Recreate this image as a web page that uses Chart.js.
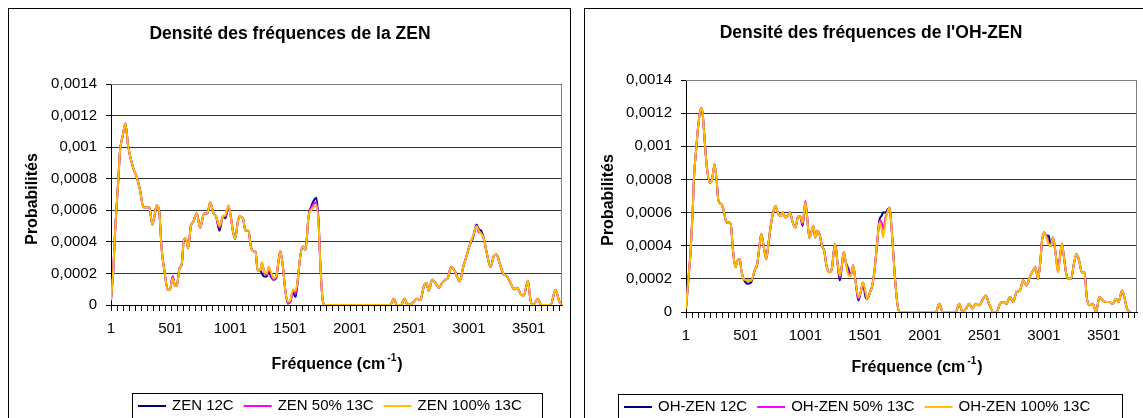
<!DOCTYPE html>
<html lang="fr">
<head>
<meta charset="UTF-8">
<script src="https://cdn.jsdelivr.net/npm/chart.js"></script>
<title>Densité des fréquences</title>
<style>
    body { margin: 0; background: #fff; width: 1143px; height: 418px; overflow: hidden; position: relative; }
    .cadre { position: absolute; top: 8px; width: 561px; height: 420px; border: 1px solid #000; background: #fff; }
    #cadreZen { left: 8px; }
    #cadreOh { left: 584px; }
    canvas { position: absolute; left: 0; top: 0; }
</style>
</head>
<body>
<div class="cadre" id="cadreZen"><canvas id="grafZen" width="561" height="410"></canvas></div>
<div class="cadre" id="cadreOh"><canvas id="grafOh" width="561" height="410"></canvas></div>

<script>
// ---- ZEN ----
var freqZen = [1, 20, 35, 62, 77, 99, 121, 146, 188, 217,
    244, 272, 301, 322, 347, 362, 384, 404, 426, 448,
    477, 496, 519, 538, 552, 574, 594, 613, 630, 647,
    670, 692, 720, 748, 781, 809, 832, 860, 882, 910,
    938, 960, 985, 1005, 1022, 1041, 1064, 1077, 1106, 1128,
    1153, 1173, 1195, 1212, 1229, 1251, 1265, 1285, 1307, 1321,
    1341, 1363, 1385, 1405, 1419, 1442, 1461, 1484, 1503, 1526,
    1547, 1564, 1587, 1609, 1631, 1656, 1677, 1699, 1722, 1741,
    1755, 1772, 1788, 2342, 2370, 2398, 2432, 2459, 2487, 2524,
    2566, 2594, 2621, 2644, 2663, 2692, 2719, 2747, 2776, 2803,
    2823, 2851, 2879, 2901, 2923, 2952, 2980, 3007, 3036, 3064,
    3083, 3103, 3125, 3147, 3181, 3209, 3231, 3259, 3287, 3321,
    3349, 3376, 3405, 3432, 3460, 3494, 3516, 3539, 3578, 3606,
    3684, 3726, 3754, 3777];

var zen12 = [0.00003, 0.00022, 0.00046, 0.00079, 0.00098, 0.00107, 0.00115, 0.00100, 0.000865, 0.00081,
    0.00073, 0.00062, 0.00062, 0.00062, 0.00051, 0.00055, 0.00063, 0.00060, 0.00035, 0.00022,
    0.000095, 0.00010, 0.00018, 0.00012, 0.00012, 0.00023, 0.00026, 0.00042, 0.00042, 0.00036,
    0.00050, 0.00053, 0.00058, 0.00049, 0.00058, 0.00058, 0.00065, 0.00058, 0.00056, 0.00047,
    0.00056, 0.00055, 0.00062, 0.00056, 0.00047, 0.00042, 0.00053, 0.00056, 0.00055, 0.00047,
    0.00047, 0.00037, 0.00034, 0.00034, 0.00022, 0.00022, 0.00020, 0.00018, 0.00018, 0.00022,
    0.00018, 0.00016, 0.00017, 0.00028, 0.00034, 0.00024, 0.000095, 0.00001, 0.00002, 0.00008,
    0.00005, 0.00014, 0.00031, 0.00037, 0.00035, 0.00056, 0.00062, 0.00066, 0.00068, 0.00052,
    0.00026, 0.00005, 0, 0, 0.00004, 0, 0, 0.00004, 0, 0.00001,
    0.00004, 0.00003, 0.000115, 0.00014, 0.00009, 0.00016, 0.00014, 0.00011, 0.00014, 0.00016,
    0.00017, 0.00024, 0.00022, 0.00018, 0.00015, 0.00024, 0.00031, 0.00038, 0.00043, 0.00051,
    0.00048, 0.00047, 0.00042, 0.00034, 0.00024, 0.00031, 0.00032, 0.00026, 0.00020, 0.00018,
    0.00014, 0.00010, 0.00011, 0.00007, 0.00006, 0.000154, 0.00003, 0, 0.00004, 0,
    0, 0.000095, 0.00003, 0];

var zen50 = [0.00003, 0.00022, 0.00046, 0.00079, 0.00098, 0.00107, 0.00115, 0.00100, 0.000865, 0.00081,
    0.00073, 0.00062, 0.00062, 0.00062, 0.00051, 0.00055, 0.00063, 0.00060, 0.00035, 0.00022,
    0.000095, 0.00010, 0.00018, 0.00012, 0.00012, 0.00023, 0.00026, 0.00042, 0.00042, 0.00036,
    0.00050, 0.00053, 0.00058, 0.00049, 0.00058, 0.00058, 0.00065, 0.00058, 0.00056, 0.00049,
    0.00056, 0.00056, 0.00063, 0.00056, 0.00047, 0.00042, 0.00053, 0.00056, 0.00055, 0.00047,
    0.00047, 0.00037, 0.00034, 0.00034, 0.00022, 0.00022, 0.00027, 0.00021, 0.00019, 0.00024,
    0.00020, 0.00016, 0.00018, 0.00028, 0.00034, 0.00024, 0.000095, 0.00001, 0.00002, 0.00009,
    0.00007, 0.00015, 0.00031, 0.00037, 0.00035, 0.00056, 0.00061, 0.00064, 0.00065, 0.00051,
    0.00026, 0.00005, 0, 0, 0.00004, 0, 0, 0.00004, 0, 0.00001,
    0.00004, 0.00003, 0.000115, 0.00014, 0.00009, 0.00016, 0.00014, 0.00011, 0.00014, 0.00016,
    0.00017, 0.00024, 0.00022, 0.00018, 0.00015, 0.00024, 0.00031, 0.00038, 0.00044, 0.00050,
    0.00046, 0.00046, 0.00042, 0.00034, 0.00024, 0.00031, 0.00032, 0.00026, 0.00020, 0.00018,
    0.00014, 0.00010, 0.00011, 0.00007, 0.00006, 0.000154, 0.00003, 0, 0.00004, 0,
    0, 0.000095, 0.00003, 0];

var zen100 = [0.00003, 0.00022, 0.00046, 0.00079, 0.00098, 0.00107, 0.00115, 0.00100, 0.000865, 0.00081,
    0.00073, 0.00062, 0.00062, 0.00062, 0.00051, 0.00055, 0.00063, 0.00060, 0.00035, 0.00022,
    0.000095, 0.00010, 0.00017, 0.00012, 0.00012, 0.00023, 0.00026, 0.00042, 0.00042, 0.00036,
    0.00050, 0.00053, 0.00058, 0.00049, 0.00058, 0.00058, 0.00065, 0.00058, 0.00056, 0.00050,
    0.00056, 0.00057, 0.00063, 0.00056, 0.00047, 0.00042, 0.00053, 0.00056, 0.00055, 0.00047,
    0.00047, 0.00037, 0.00034, 0.00034, 0.00022, 0.00022, 0.00027, 0.00021, 0.00020, 0.00024,
    0.00021, 0.00017, 0.00018, 0.00028, 0.00034, 0.00024, 0.000095, 0.00002, 0.00003, 0.00010,
    0.00009, 0.00015, 0.00031, 0.00037, 0.00035, 0.00056, 0.00060, 0.00062, 0.00063, 0.00050,
    0.00026, 0.00005, 0, 0, 0.00004, 0, 0, 0.00004, 0, 0.00001,
    0.00004, 0.00003, 0.000115, 0.00014, 0.00009, 0.00016, 0.00014, 0.00011, 0.00014, 0.00016,
    0.00017, 0.00024, 0.00022, 0.00018, 0.00015, 0.00024, 0.00031, 0.00038, 0.00044, 0.00050,
    0.00047, 0.00045, 0.00042, 0.00034, 0.00024, 0.00031, 0.00032, 0.00026, 0.00020, 0.00018,
    0.00014, 0.00010, 0.00011, 0.00007, 0.00006, 0.000154, 0.00003, 0, 0.00004, 0,
    0, 0.000095, 0.00003, 0];

// ---- OH-ZEN ----
var freqOh = [1, 20, 40, 57, 70, 84, 103, 126, 140, 159,
    178, 201, 220, 240, 257, 273, 298, 318, 340, 362,
    376, 395, 415, 432, 451, 465, 484, 520, 548, 576,
    598, 612, 632, 651, 673, 690, 709, 728, 751, 770,
    793, 812, 834, 853, 873, 895, 918, 937, 957, 978,
    1001, 1015, 1034, 1051, 1068, 1084, 1104, 1123, 1140, 1159,
    1178, 1201, 1223, 1240, 1251, 1270, 1290, 1307, 1323, 1340,
    1362, 1382, 1401, 1423, 1445, 1465, 1484, 1506, 1520, 1543,
    1562, 1582, 1603, 1623, 1640, 1653, 1673, 1693, 1707, 1723,
    1743, 1757, 1774, 1790, 2095, 2123, 2151, 2262, 2290, 2318,
    2348, 2373, 2401, 2428, 2457, 2484, 2512, 2540, 2576, 2604,
    2632, 2659, 2687, 2715, 2743, 2770, 2799, 2826, 2853, 2882,
    2909, 2928, 2951, 2973, 2984, 3001, 3020, 3040, 3057, 3076,
    3095, 3118, 3134, 3151, 3168, 3187, 3207, 3228, 3251, 3273,
    3298, 3318, 3340, 3359, 3382, 3409, 3437, 3465, 3493, 3520,
    3548, 3576, 3604, 3626, 3654, 3674, 3696, 3721];

var oh12 = [0.00002, 0.00019, 0.00037, 0.00061, 0.00084, 0.00096, 0.00112, 0.00123, 0.00120, 0.00102,
    0.00086, 0.00078, 0.00080, 0.00089, 0.00080, 0.00067, 0.00065, 0.00061, 0.00054, 0.00054,
    0.00053, 0.00037, 0.00027, 0.00031, 0.00032, 0.00025, 0.00020, 0.00017, 0.00018, 0.00025,
    0.00029, 0.00037, 0.00047, 0.00040, 0.00032, 0.00040, 0.00051, 0.00059, 0.00064, 0.00060,
    0.00058, 0.00060, 0.00057, 0.00058, 0.00060, 0.00054, 0.00051, 0.00057, 0.00058, 0.00052,
    0.00066, 0.00058, 0.00045, 0.00048, 0.00052, 0.00045, 0.00049, 0.00046, 0.00040, 0.00037,
    0.00028, 0.00024, 0.00026, 0.00037, 0.00041, 0.00030, 0.00019, 0.00028, 0.00036, 0.00030,
    0.00026, 0.00022, 0.00028, 0.00018, 0.00007, 0.00012, 0.00017, 0.00009, 0.00008, 0.00012,
    0.00016, 0.00026, 0.00042, 0.00056, 0.00058, 0.00060, 0.00060, 0.00062, 0.00063, 0.00051,
    0.00030, 0.00016, 0.00004, 0, 0, 0.00005, 0, 0, 0.00005, 0,
    0.00002, 0.00005, 0.00002, 0.00005, 0.00004, 0.00007, 0.00010, 0.00005, 0, 0,
    0.00005, 0.00006, 0.00005, 0.00009, 0.00006, 0.00012, 0.00013, 0.00019, 0.00016, 0.00021,
    0.00025, 0.00027, 0.00020, 0.00033, 0.00043, 0.00048, 0.00046, 0.00046, 0.00040, 0.00045,
    0.00037, 0.00026, 0.00033, 0.00041, 0.00033, 0.00023, 0.00020, 0.00020, 0.00029, 0.00035,
    0.00030, 0.00024, 0.00024, 0.00009, 0.00004, 0.00005, 0, 0.00009, 0.00007, 0.00006,
    0.00006, 0.00005, 0.00008, 0.00006, 0.00013, 0.00009, 0.00002, 0];

var oh50 = [0.00002, 0.00019, 0.00037, 0.00061, 0.00084, 0.00096, 0.00112, 0.00123, 0.00120, 0.00102,
    0.00086, 0.00078, 0.00080, 0.00089, 0.00080, 0.00067, 0.00065, 0.00061, 0.00054, 0.00054,
    0.00053, 0.00037, 0.00027, 0.00031, 0.00032, 0.00025, 0.00020, 0.00019, 0.00019, 0.00025,
    0.00029, 0.00037, 0.00047, 0.00040, 0.00032, 0.00040, 0.00051, 0.00059, 0.00064, 0.00060,
    0.00058, 0.00060, 0.00057, 0.00058, 0.00060, 0.00054, 0.00051, 0.00057, 0.00058, 0.00053,
    0.00067, 0.00058, 0.00045, 0.00048, 0.00052, 0.00045, 0.00049, 0.00046, 0.00040, 0.00037,
    0.00028, 0.00024, 0.00026, 0.00037, 0.00041, 0.00030, 0.00021, 0.00028, 0.00036, 0.00030,
    0.00024, 0.00022, 0.00028, 0.00018, 0.00008, 0.00012, 0.00018, 0.00011, 0.00008, 0.00012,
    0.00016, 0.00026, 0.00042, 0.00055, 0.00054, 0.00050, 0.00057, 0.00061, 0.00063, 0.00051,
    0.00030, 0.00016, 0.00004, 0, 0, 0.00005, 0, 0, 0.00005, 0,
    0.00002, 0.00005, 0.00002, 0.00005, 0.00004, 0.00007, 0.00010, 0.00005, 0, 0,
    0.00005, 0.00006, 0.00005, 0.00009, 0.00006, 0.00012, 0.00013, 0.00019, 0.00016, 0.00021,
    0.00025, 0.00027, 0.00020, 0.00033, 0.00043, 0.00048, 0.00046, 0.00041, 0.00040, 0.00045,
    0.00037, 0.00024, 0.00033, 0.00041, 0.00033, 0.00023, 0.00020, 0.00020, 0.00029, 0.00035,
    0.00030, 0.00024, 0.00024, 0.00009, 0.00004, 0.00005, 0, 0.00009, 0.00007, 0.00006,
    0.00006, 0.00005, 0.00008, 0.00006, 0.00013, 0.00009, 0.00002, 0];

var oh100 = [0.00002, 0.00019, 0.00037, 0.00061, 0.00084, 0.00096, 0.00112, 0.00123, 0.00120, 0.00102,
    0.00086, 0.00078, 0.00080, 0.00089, 0.00080, 0.00067, 0.00065, 0.00061, 0.00054, 0.00054,
    0.00053, 0.00037, 0.00027, 0.00031, 0.00032, 0.00025, 0.00020, 0.00019, 0.00019, 0.00025,
    0.00029, 0.00037, 0.00047, 0.00040, 0.00032, 0.00040, 0.00051, 0.00059, 0.00064, 0.00060,
    0.00058, 0.00060, 0.00057, 0.00058, 0.00060, 0.00054, 0.00051, 0.00057, 0.00058, 0.00054,
    0.00066, 0.00058, 0.00045, 0.00048, 0.00052, 0.00045, 0.00049, 0.00046, 0.00040, 0.00037,
    0.00028, 0.00024, 0.00026, 0.00037, 0.00041, 0.00030, 0.00022, 0.00028, 0.00036, 0.00030,
    0.00022, 0.00022, 0.00028, 0.00018, 0.00009, 0.00012, 0.00018, 0.00012, 0.00008, 0.00012,
    0.00016, 0.00026, 0.00042, 0.00054, 0.00050, 0.00045, 0.00055, 0.00061, 0.00063, 0.00051,
    0.00030, 0.00016, 0.00004, 0, 0, 0.00005, 0, 0, 0.00005, 0,
    0.00002, 0.00005, 0.00002, 0.00005, 0.00004, 0.00007, 0.00010, 0.00005, 0, 0,
    0.00005, 0.00006, 0.00005, 0.00009, 0.00006, 0.00012, 0.00013, 0.00019, 0.00016, 0.00021,
    0.00025, 0.00027, 0.00020, 0.00033, 0.00043, 0.00048, 0.00045, 0.00041, 0.00040, 0.00045,
    0.00037, 0.00024, 0.00033, 0.00041, 0.00033, 0.00023, 0.00020, 0.00020, 0.00029, 0.00035,
    0.00030, 0.00024, 0.00024, 0.00009, 0.00004, 0.00005, 0, 0.00009, 0.00007, 0.00006,
    0.00006, 0.00005, 0.00008, 0.00006, 0.00013, 0.00009, 0.00002, 0];

var police = 'Arial, "Liberation Sans", sans-serif';
Chart.defaults.font.family = police;
Chart.defaults.font.size = 15;
Chart.defaults.color = '#000';

function points(freq, vals) {
    return freq.map(function (f, i) { return { x: f, y: vals[i] }; });
}

// titre, titres des axes, graduations x, legende encadree, bord gris
var decor = {
    id: 'decor',
    afterDraw: function (chart, args, o) {
        var ctx = chart.ctx;
        var a = chart.chartArea;
        var sx = chart.scales.x;
        ctx.save();
        ctx.strokeStyle = '#808080';
        ctx.lineWidth = 1;
        ctx.beginPath();
        ctx.moveTo(a.left, a.top + 0.5);
        ctx.lineTo(a.right - 0.5, a.top + 0.5);
        ctx.lineTo(a.right - 0.5, a.bottom);
        ctx.stroke();

        // petites graduations sous l'axe x
        ctx.strokeStyle = '#000';
        ctx.beginPath();
        sx.ticks.forEach(function (t) {
            var px = Math.round(sx.getPixelForValue(t.value)) + 0.5;
            ctx.moveTo(px, a.bottom);
            ctx.lineTo(px, a.bottom + 6);
        });
        ctx.stroke();

        ctx.fillStyle = '#000';
        ctx.textAlign = 'center';
        ctx.textBaseline = 'middle';
        ctx.font = 'bold 17.5px ' + police;
        ctx.fillText(o.titre, o.titreX, o.titreY);

        ctx.save();
        ctx.translate(o.axeYX, o.axeYY);
        ctx.rotate(-Math.PI / 2);
        ctx.font = 'bold 16px ' + police;
        ctx.fillText('Probabilités', 0, 0);
        ctx.restore();

        // Fréquence (cm-1) avec exposant
        ctx.textAlign = 'left';
        ctx.font = 'bold 16px ' + police;
        var t1 = 'Fréquence (cm', t3 = ')';
        var w1 = ctx.measureText(t1).width, w3 = ctx.measureText(t3).width;
        ctx.font = 'bold 10px ' + police;
        var w2 = ctx.measureText('-1').width + 3;
        var x0 = o.axeXX - (w1 + w2 + w3) / 2;
        ctx.font = 'bold 16px ' + police;
        ctx.fillText(t1, x0, o.axeXY);
        ctx.fillText(t3, x0 + w1 + w2, o.axeXY);
        ctx.font = 'bold 10px ' + police;
        ctx.fillText('-1', x0 + w1 + 2, o.axeXY - 7);

        // legende
        ctx.strokeStyle = '#000';
        ctx.lineWidth = 1;
        ctx.strokeRect(o.legX + 0.5, o.legY + 0.5, o.legW, 60);
        ctx.font = '15px ' + police;
        var x = o.legX + 6;
        var y = o.legY + 13;
        chart.data.datasets.forEach(function (ds) {
            ctx.strokeStyle = ds.borderColor;
            ctx.lineWidth = 2;
            ctx.beginPath();
            ctx.moveTo(x, y);
            ctx.lineTo(x + 28, y);
            ctx.stroke();
            ctx.fillText(ds.label, x + 34, y);
            x += 34 + ctx.measureText(ds.label).width + 10;
        });
        ctx.restore();
    }
};

function fmtY(v) {
    return String(parseFloat(Number(v).toFixed(4))).replace('.', ',');
}

function creerGraphique(id, freq, series, noms, deco, pad) {
    var couleurs = ['#000080', '#FF00FF', '#FFC000'];
    var datasets = series.map(function (s, i) {
        return {
            label: noms[i],
            data: points(freq, s),
            borderColor: couleurs[i],
            backgroundColor: couleurs[i],
            borderWidth: 2,
            pointRadius: 0,
            cubicInterpolationMode: 'monotone',
            order: 3 - i
        };
    });

    new Chart(document.getElementById(id), {
        type: 'line',
        data: { datasets: datasets },
        plugins: [decor],
        options: {
            responsive: false,
            animation: false,
            layout: { padding: pad },
            plugins: {
                legend: { display: false },
                title: { display: false },
                tooltip: { enabled: false },
                decor: deco
            },
            scales: {
                x: {
                    type: 'linear',
                    min: 1,
                    max: 3780,
                    afterFit: function (s) { s.height = 40; },
                    afterBuildTicks: function (axis) {
                        var t = [];
                        for (var v = 1; v <= axis.max; v += 50) t.push({ value: v });
                        axis.ticks = t;
                    },
                    ticks: {
                        autoSkip: false,
                        maxRotation: 0,
                        padding: 10,
                        callback: function (v) { return (v - 1) % 500 === 0 ? String(v) : ''; }
                    },
                    grid: { display: false, drawTicks: true, tickLength: 5 },
                    border: { color: '#000', width: 1 }
                },
                y: {
                    min: 0,
                    max: 0.0014,
                    afterFit: function (s) { s.width = pad.yw; },
                    ticks: { stepSize: 0.0002, padding: 9, callback: fmtY },
                    grid: { color: '#333', tickLength: 5, tickColor: '#000' },
                    border: { color: '#000', width: 1 }
                }
            }
        }
    });
}

creerGraphique('grafZen', freqZen, [zen12, zen50, zen100],
    ['ZEN 12C', 'ZEN 50% 13C', 'ZEN 100% 13C'],
    { titre: 'Densité des fréquences de la ZEN', titreX: 281, titreY: 25,
      axeYX: 24, axeYY: 190, axeXX: 328, axeXY: 356,
      legX: 123, legY: 384, legW: 410 },
    { left: 0, top: 75, right: 8, bottom: 74, yw: 102 });

creerGraphique('grafOh', freqOh, [oh12, oh50, oh100],
    ['OH-ZEN 12C', 'OH-ZEN 50% 13C', 'OH-ZEN 100% 13C'],
    { titre: "Densité des fréquences de l'OH-ZEN", titreX: 286, titreY: 24,
      axeYX: 24, axeYY: 191, axeXX: 332, axeXY: 359,
      legX: 33, legY: 385, legW: 504 },
    { left: 0, top: 71, right: 9, bottom: 67, yw: 101 });
</script>
</body>
</html>
